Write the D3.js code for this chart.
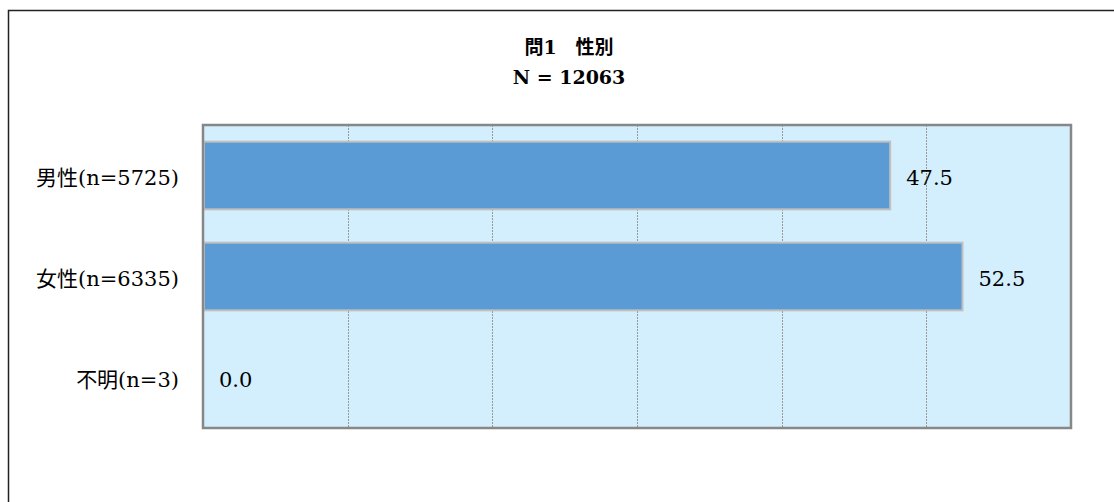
<!DOCTYPE html>
<html>
<head>
<meta charset="utf-8">
<script src="https://cdn.jsdelivr.net/npm/d3@7"></script>
<style>
    body { margin: 0; background: #fff; }
    text { font-family: "DejaVu Serif", "Noto Sans CJK JP", serif; fill: #000; }
</style>
</head>
<body>
<div id="chart"></div>
<script>

//=================== DATA ====================================
var categories = ["男性(n=5725)", "女性(n=6335)", "不明(n=3)"];
var percentValues = [47.5, 52.5, 0.0];
var gridTicks = [10, 20, 30, 40, 50];
var titleLines = ["問1　性別", "N = 12063"];

//=================== LAYOUT ====================================
var svgWidth = 1114,
    svgHeight = 502;
var plotLeft = 203,
    plotRight = 1071,
    plotTop = 125,
    plotBottom = 428;

var svg = d3.select("#chart")
    .append("svg")
    .attr("width", svgWidth)
    .attr("height", svgHeight);

// outer frame (runs off the right and bottom edge like the original)
svg.append("rect")
    .attr("x", 8.5)
    .attr("y", 10.5)
    .attr("width", 1130)
    .attr("height", 520)
    .style("fill", "none")
    .style("stroke", "#222")
    .style("stroke-width", 1.5);

// title
svg.append("g")
    .selectAll("text")
    .data(titleLines)
    .enter()
    .append("text")
    .attr("x", 569)
    .attr("y", function (d, i) { return 54 + i * 30; })
    .attr("text-anchor", "middle")
    .style("font-size", "19px")
    .style("font-weight", "bold")
    .text(function (d) { return d; });

//scales
var xScale = d3.scaleLinear()
    .domain([0, 60])
    .range([plotLeft, plotRight]);

var yScale = d3.scaleBand()
    .domain(categories)
    .range([plotTop, plotBottom])
    .paddingInner(0.33)
    .paddingOuter(0.165);

// plot background
svg.append("rect")
    .attr("x", xScale(0))
    .attr("y", plotTop)
    .attr("width", xScale(60) - xScale(0))
    .attr("height", plotBottom - plotTop)
    .style("fill", "#d3eefd");

// dotted vertical gridlines
svg.append("g")
    .selectAll("line")
    .data(gridTicks)
    .enter()
    .append("line")
    .attr("x1", function (d) { return Math.round(xScale(d)) + 0.5; })
    .attr("x2", function (d) { return Math.round(xScale(d)) + 0.5; })
    .attr("y1", plotTop)
    .attr("y2", plotBottom)
    .style("stroke", "#999")
    .style("stroke-width", 1)
    .style("stroke-dasharray", "2,1");

// bars
svg.append("g")
    .selectAll("rect")
    .data(percentValues)
    .enter()
    .append("rect")
    .attr("x", xScale(0) + 1)
    .attr("y", function (d, i) { return yScale(categories[i]); })
    .attr("width", function (d) { return Math.max(0, xScale(d) - xScale(0) - 1); })
    .attr("height", yScale.bandwidth())
    .style("fill", "#5b9bd5")
    .style("stroke", function (d) { return d > 0 ? "#bfbfbf" : "none"; })
    .style("stroke-width", 2);

// plot border
svg.append("rect")
    .attr("x", xScale(0))
    .attr("y", plotTop)
    .attr("width", xScale(60) - xScale(0))
    .attr("height", plotBottom - plotTop)
    .style("fill", "none")
    .style("stroke", "#878787")
    .style("stroke-width", 2.5);

// value labels
svg.append("g")
    .selectAll("text")
    .data(percentValues)
    .enter()
    .append("text")
    .attr("x", function (d) { return xScale(d) + 16; })
    .attr("y", function (d, i) { return yScale(categories[i]) + yScale.bandwidth() / 2; })
    .attr("dy", "0.45em")
    .style("font-size", "21px")
    .text(function (d) { return d.toFixed(1); });

// category labels
svg.append("g")
    .selectAll("text")
    .data(categories)
    .enter()
    .append("text")
    .attr("x", 179)
    .attr("y", function (d) { return yScale(d) + yScale.bandwidth() / 2; })
    .attr("dy", "0.45em")
    .attr("text-anchor", "end")
    .style("font-size", "21px")
    .text(function (d) { return d; });

</script>
</body>
</html>
